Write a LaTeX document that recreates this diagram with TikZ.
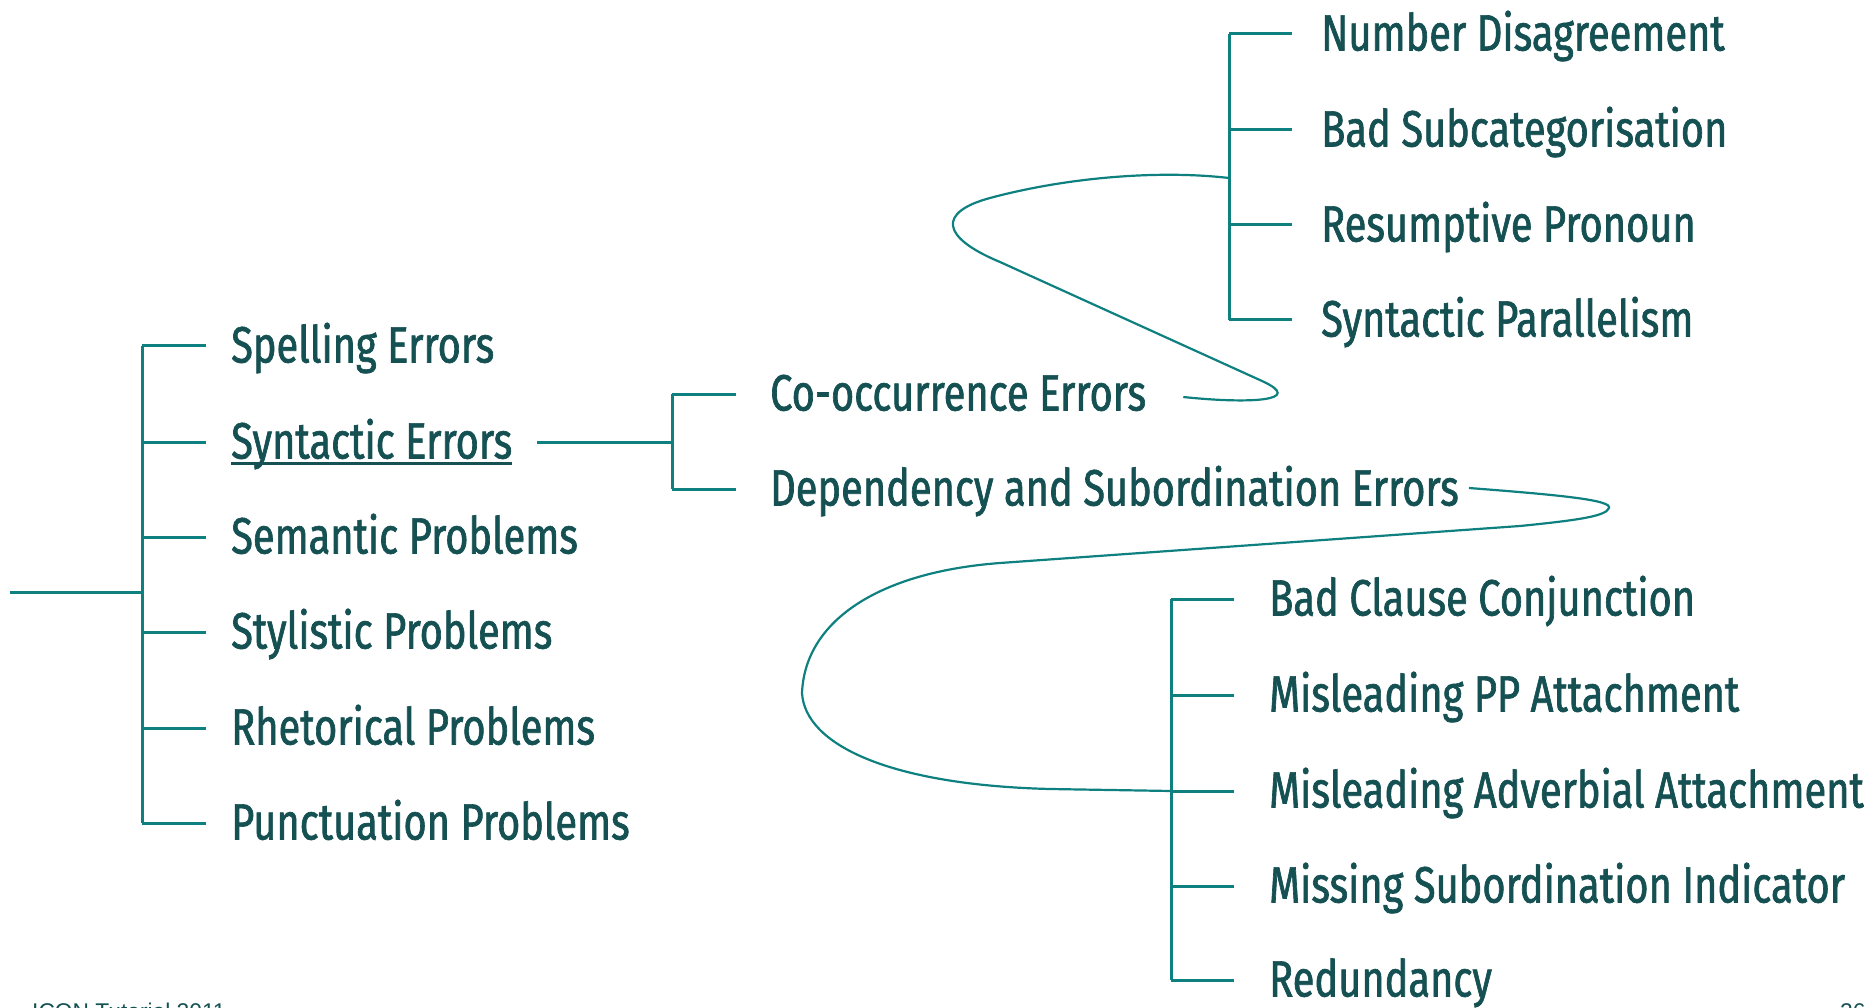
\documentclass[tikz,border=0pt]{standalone}
\usepackage{fontspec}
\setmainfont[FakeStretch=0.78, FakeBold=1.3]{Fira Sans}
\newfontfamily\footfont{Liberation Sans}
\usetikzlibrary{positioning}

\definecolor{textcol}{RGB}{21,80,82}
\definecolor{linecol}{RGB}{14,128,128}

\begin{document}
\begin{tikzpicture}[x=1pt, y=-1pt,
                leaf/.style={anchor=west, inner sep=0pt, text=textcol, font=\fontsize{51}{60}\selectfont, text height=37pt, text depth=4pt},
                branch/.style={draw=linecol, line width=3pt},
                link/.style={draw=linecol, line width=2.2pt},
                foot/.style={anchor=base west, inner sep=0pt, text=textcol, font=\footfont\fontsize{22.75}{26}\selectfont}
            ]
                \useasboundingbox (0,0) rectangle (1864,1008);
                \clip (0,0) rectangle (1864,1008);

                % Nodes
                \node (spell) [leaf] at (231,346) {Spelling Errors};
                \node (synt)  [leaf] at (231,442) {Syntactic Errors};
                \node (sem)   [leaf] at (231,537) {Semantic Problems};
                \node (styl)  [leaf] at (231,632) {Stylistic Problems};
                \node (rhet)  [leaf] at (231,728) {Rhetorical Problems};
                \node (punc)  [leaf] at (231,823) {Punctuation Problems};

                \node (cooc) [leaf] at (770,394) {Co-occurrence Errors};
                \node (dep)  [leaf] at (770,489) {Dependency and Subordination Errors};

                \node (numdis) [leaf] at (1321,34)  {Number Disagreement};
                \node (subcat) [leaf] at (1321,130) {Bad Subcategorisation};
                \node (resump) [leaf] at (1321,225) {Resumptive Pronoun};
                \node (parall) [leaf] at (1321,320) {Syntactic Parallelism};

                \node (clause) [leaf] at (1269,599) {Bad Clause Conjunction};
                \node (ppatt)  [leaf] at (1269,695) {Misleading PP Attachment};
                \node (advatt) [leaf] at (1269,791) {Misleading Adverbial Attachment};
                \node (subind) [leaf] at (1269,886) {Missing Subordination Indicator};
                \node (redund) [leaf] at (1269,980) {Redundancy};

                \node (venue) [foot] at (32,1019) {ICON Tutorial 2011};
                \node (page)  [foot] at (1840,1019) {26};

                \coordinate (root) at (10,592);
                \coordinate (lbar) at (142,592);
                \coordinate (mbar) at (672,442);
                \coordinate (tbar) at (1229,178);
                \coordinate (bbar) at (1171,791);

                % Lines
                \draw [branch] (root) -- (lbar);
                \draw [branch] (lbar |- spell.west) -- (lbar |- punc.west);
                \draw [branch] (lbar |- spell.west) -- ++(64,0) (lbar |- synt.west) -- ++(64,0)
                               (lbar |- sem.west) -- ++(64,0) (lbar |- styl.west) -- ++(64,0)
                               (lbar |- rhet.west) -- ++(64,0) (lbar |- punc.west) -- ++(64,0);
                \draw [textcol, line width=3pt] ([yshift=-1pt]synt.south west) -- ([yshift=-1pt]synt.south east);

                \draw [branch] ([xshift=25pt]synt.east) -- (mbar);
                \draw [branch] (mbar |- cooc.west) -- (mbar |- dep.west);
                \draw [branch] (mbar |- cooc.west) -- ++(64,0) (mbar |- dep.west) -- ++(64,0);

                \draw [branch] (tbar |- numdis.west) -- (tbar |- parall.west);
                \draw [branch] (tbar |- numdis.west) -- ++(63,0) (tbar |- subcat.west) -- ++(63,0)
                               (tbar |- resump.west) -- ++(63,0) (tbar |- parall.west) -- ++(63,0);

                \draw [branch] (bbar |- clause.west) -- (bbar |- redund.west);
                \draw [branch] (bbar |- clause.west) -- ++(63,0) (bbar |- ppatt.west) -- ++(63,0)
                               (bbar |- advatt.west) -- ++(63,0) (bbar |- subind.west) -- ++(63,0)
                               (bbar |- redund.west) -- ++(63,0);

                % Loops
                \draw [link] ([xshift=37pt,yshift=-3pt]cooc.east) .. controls (1250,404) and (1306,401) .. (1262,381)
                             -- (1000,262) .. controls (940,237) and (938,212) .. (990,198)
                             .. controls (1068,177) and (1160,170) .. (tbar);
                \draw [link] ([xshift=10pt,yshift=1pt]dep.east) .. controls (1560,495) and (1612,500) .. (1609,508)
                             .. controls (1606,516) and (1580,520) .. (1520,526)
                             -- (1000,563) .. controls (880,572) and (805,620) .. (802,693)
                             .. controls (805,745) and (890,785) .. (1050,789) -- (bbar);
            \end{tikzpicture}
\end{document}
